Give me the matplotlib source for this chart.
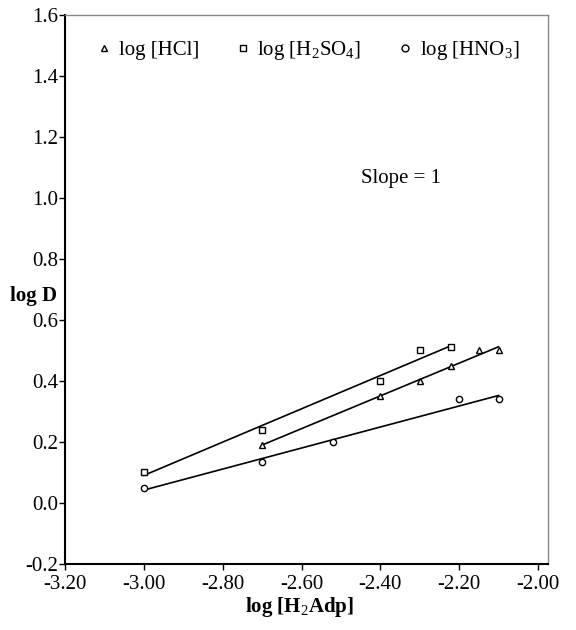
import matplotlib.pyplot as plt
import numpy as np

plt.rcParams['font.family'] = ['Liberation Serif', 'DejaVu Serif']
plt.rcParams['mathtext.fontset'] = 'custom'
plt.rcParams['mathtext.rm'] = 'Liberation Serif'
plt.rcParams['mathtext.bf'] = 'Liberation Serif:bold'

# data
x_hcl = [-2.70, -2.40, -2.30, -2.22, -2.15, -2.10]
y_hcl = [0.19, 0.35, 0.40, 0.45, 0.50, 0.50]

x_h2so4 = [-3.00, -2.70, -2.40, -2.30, -2.22]
y_h2so4 = [0.10, 0.24, 0.40, 0.50, 0.51]

x_hno3 = [-3.00, -2.70, -2.52, -2.20, -2.10]
y_hno3 = [0.05, 0.135, 0.20, 0.34, 0.34]

x_ticks = [-3.20, -3.00, -2.80, -2.60, -2.40, -2.20, -2.00]
y_ticks = [-0.2, 0.0, 0.2, 0.4, 0.6, 0.8, 1.0, 1.2, 1.4, 1.6]

fig = plt.figure(figsize=(5.76, 6.3), dpi=100)
ax = fig.add_axes([0.113, 0.105, 0.838, 0.871])

series = [
    (x_hcl, y_hcl, '^', 'log [HCl]'),
    (x_h2so4, y_h2so4, 's', 'log [H$_2$SO$_4$]'),
    (x_hno3, y_hno3, 'o', 'log [HNO$_3$]'),
]

for xs, ys, mk, lab in series:
    xs = np.array(xs)
    ys = np.array(ys)
    k, b = np.polyfit(xs, ys, 1)
    xl = np.array([xs.min(), xs.max()])
    ax.plot(xl, k * xl + b, color='black', lw=1.2)
    ax.plot(xs, ys, linestyle='none', marker=mk, ms=4.5, mfc='white',
            mec='black', mew=1.0, label=lab)

ax.set_xlim(-3.2, -1.975)
ax.set_ylim(-0.2, 1.6)
ax.set_xticks(x_ticks)
ax.set_xticklabels([f'{v:.2f}' for v in x_ticks], fontsize=15)
ax.set_yticks(y_ticks)
ax.set_yticklabels([f'{v:.1f}' for v in y_ticks], fontsize=15)
ax.tick_params(direction='out', length=4, width=1)
ax.tick_params(axis='y', pad=1)
ax.tick_params(axis='x', pad=4)

for s in ['left', 'bottom']:
    ax.spines[s].set_linewidth(1.5)
    ax.spines[s].set_color('black')
for s in ['top', 'right']:
    ax.spines[s].set_linewidth(1.0)
    ax.spines[s].set_color('#888888')

ax.legend(loc='upper center', bbox_to_anchor=(0.5, 0.99), ncol=3,
          frameon=False, fontsize=15, handletextpad=0.2, columnspacing=1.6,
          handlelength=1.0, markerscale=1.1)

ax.text(-2.45, 1.05, 'Slope = 1', fontsize=15)

fig.text(0.017, 0.53, 'log D', fontsize=15, fontweight='bold', va='center')
fig.text(0.52, 0.037, 'log [H$_2$Adp]', fontsize=15, fontweight='bold',
         ha='center', va='center')

fig.savefig('out.png', dpi=100)
